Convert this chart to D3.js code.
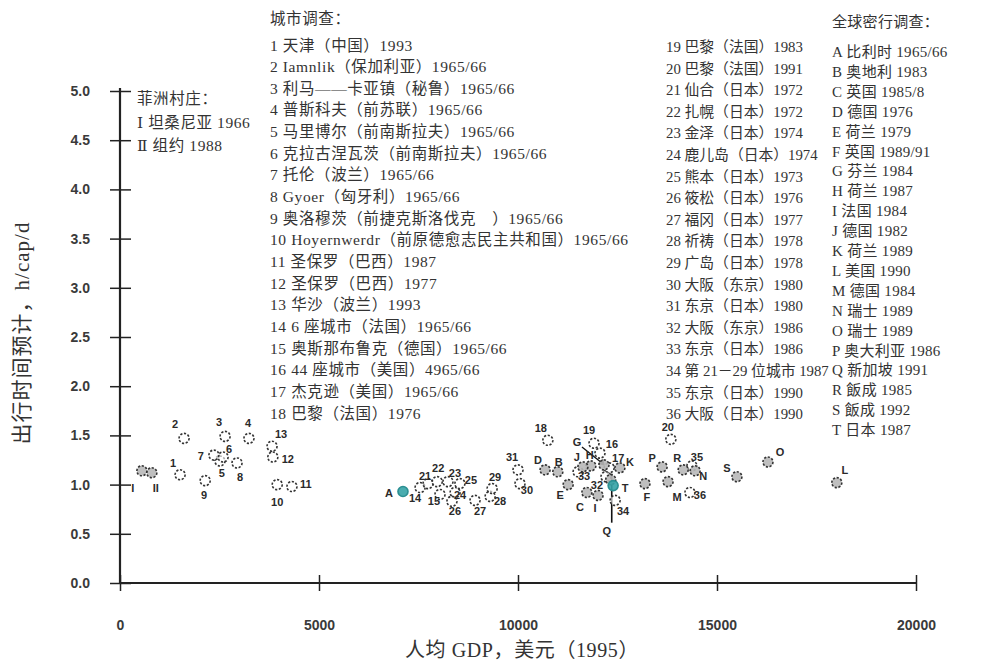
<!DOCTYPE html>
<html>
<head>
<meta charset="utf-8">
<script src="https://cdn.jsdelivr.net/npm/d3@7/dist/d3.min.js"></script>
<style>
  body { margin: 0; background: #fff; }
  svg { display: block; }
  .legend text { font-family: "Liberation Serif", "DejaVu Serif", "Noto Sans CJK SC", serif; font-size: 15.5px; fill: #333; letter-spacing: 0.6px; }
  .legend .col2 text { font-size: 14.8px; letter-spacing: 0px; }
  .legend .nation text { font-size: 15px; letter-spacing: 0.3px; }
  .tick text { font-family: "Liberation Sans Narrow", "Liberation Sans", Arial, sans-serif; font-weight: bold; font-size: 14px; fill: #3a3a3a; }
  .ptlabel { font-family: "Liberation Sans", Arial, sans-serif; font-weight: bold; font-size: 11px; fill: #2a2a2a; }
  .title { font-family: "Liberation Serif", "Noto Sans CJK SC", serif; font-size: 20px; fill: #333; letter-spacing: 0.6px; }
  .ytitle { font-size: 21px; letter-spacing: 1px; }
</style>
</head>
<body>
<svg id="chart" width="987" height="662"></svg>
<script>
// Travel time budget vs. per-capita GDP (1995 USD)

// African villages
const villageIds  = ["I", "II"];
const villageGdp  = [550, 800];
const villageTime = [1.14, 1.12];
const villageNames = ["Ⅰ 坦桑尼亚 1966", "Ⅱ 组约 1988"];

// City surveys 1–36
const cityIds  = ["1","2","3","4","5","6","7","8","9","10","11","12","13","14","15","16","17","18",
                  "19","20","21","22","23","24","25","26","27","28","29","30","31","32","33","34","35","36"];
const cityGdp  = [1510,1610,2640,3240,2510,2590,2360,2940,2140,3950,4320,3840,3820,7540,8040,12060,12290,10750,
                  11910,13840,7740,7970,8240,8420,8540,8340,8920,9300,9350,10050,10000,12210,11510,12440,14370,14320];
const cityTime = [1.10,1.47,1.49,1.47,1.24,1.28,1.30,1.22,1.04,1.00,0.98,1.28,1.39,0.97,0.90,1.32,1.17,1.45,
                  1.42,1.46,1.01,1.03,1.03,0.92,1.01,0.83,0.84,0.88,0.96,1.01,1.15,1.08,1.13,0.84,1.19,0.92];
const cityNames = [
  "1 天津（中国）1993", "2 Iamnlik（保加利亚）1965/66", "3 利马——卡亚镇（秘鲁）1965/66",
  "4 普斯科夫（前苏联）1965/66", "5 马里博尔（前南斯拉夫）1965/66", "6 克拉古涅瓦茨（前南斯拉夫）1965/66",
  "7 托伦（波兰）1965/66", "8 Gyoer（匈牙利）1965/66", "9 奥洛穆茨（前捷克斯洛伐克　）1965/66",
  "10 Hoyernwerdr（前原德愈志民主共和国）1965/66", "11 圣保罗（巴西）1987", "12 圣保罗（巴西）1977",
  "13 华沙（波兰）1993", "14 6 座城市（法国）1965/66", "15 奥斯那布鲁克（德国）1965/66",
  "16 44 座城市（美国）4965/66", "17 杰克逊（美国）1965/66", "18 巴黎（法国）1976",
  "19 巴黎（法国）1983", "20 巴黎（法国）1991", "21 仙合（日本）1972", "22 扎幌（日本）1972",
  "23 金泽（日本）1974", "24 鹿儿岛（日本）1974", "25 熊本（日本）1973", "26 筱松（日本）1976",
  "27 福冈（日本）1977", "28 祈祷（日本）1978", "29 广岛（日本）1978", "30 大阪（东京）1980",
  "31 东京（日本）1980", "32 大阪（东京）1986", "33 东京（日本）1986", "34 第 21－29 位城市 1987",
  "35 东京（日本）1990", "36 大阪（日本）1990"
];

// National travel surveys A–T
const nationIds  = ["A","B","C","D","E","F","G","H","I","J","K","L","M","N","O","P","Q","R","S","T"];
const nationGdp  = [7110,11000,11730,10680,11260,13190,12160,11830,12010,11630,12560,18010,13770,14450,16280,13620,12330,14150,15500,12390];
const nationTime = [0.93,1.13,0.92,1.15,1.00,1.01,1.20,1.19,0.89,1.18,1.17,1.02,1.03,1.14,1.23,1.18,1.05,1.15,1.08,0.99];
const nationNames = [
  "A 比利时 1965/66", "B 奥地利 1983", "C 英国 1985/8", "D 德国 1976", "E 荷兰 1979",
  "F 英国 1989/91", "G 芬兰 1984", "H 荷兰 1987", "I 法国 1984", "J 德国 1982",
  "K 荷兰 1989", "L 美国 1990", "M 德国 1984", "N 瑞士 1989", "O 瑞士 1989",
  "P 奥大利亚 1986", "Q 新加坡 1991", "R 飯成 1985", "S 飯成 1992", "T 日本 1987"
];
const highlighted = ["A", "T"];

const xTicks = [0, 5000, 10000, 15000, 20000];
const yTicks = [0, 0.5, 1, 1.5, 2, 2.5, 3, 3.5, 4, 4.5, 5];

// label placement around each marker (px)
const labelOffset = {
  "I":[-9,17], "II":[4,15],
  "1":[-7,-12], "2":[-9,-14], "3":[-6,-14], "4":[-1,-15], "5":[2,12], "6":[6,-8], "7":[-13,1],
  "8":[3,14], "9":[-1,14], "10":[0,17], "11":[14,-3], "12":[15,2], "13":[9,-12],
  "14":[-5,10], "15":[-6,7], "16":[12,-9], "17":[9,-10], "18":[-7,-12], "19":[-5,-13], "20":[-3,-12],
  "21":[-3,-8], "22":[1,-14], "23":[7,-9], "24":[5,3], "25":[11,-4], "26":[3,10], "27":[5,11],
  "28":[10,5], "29":[3,-12], "30":[7,6], "31":[-6,-13], "32":[-9,8], "33":[6,4], "34":[8,11],
  "35":[5,-9], "36":[10,3],
  "A":[-14,2], "B":[1,-10], "C":[-7,15], "D":[-7,-10], "E":[-8,10], "F":[2,13], "G":[-27,-23],
  "H":[-1,-11], "nI":[-3,13], "J":[-6,-10], "K":[10,-6], "L":[8,-13], "M":[9,15], "N":[8,5],
  "O":[12,-10], "P":[-10,-9], "Q":[-4,51], "R":[-6,-12], "S":[-10,-9], "T":[12,2]
};

const svg = d3.select("#chart");
const x = d3.scaleLinear().domain([0, 20000]).range([120, 916]);
const y = d3.scaleLinear().domain([0, 5]).range([583, 91]);

// axes
const xAxis = svg.append("g").attr("transform", "translate(0,583)")
  .call(d3.axisBottom(x).tickValues(xTicks).tickFormat(d3.format("d")).tickSize(8).tickSizeOuter(0).tickPadding(29));
xAxis.select(".domain").remove();
xAxis.selectAll(".tick line").attr("y1", -8).attr("stroke", "#222").attr("stroke-width", 1.5);

const yAxis = svg.append("g").attr("transform", "translate(120,0)")
  .call(d3.axisLeft(y).tickValues(yTicks).tickFormat(d3.format(".1f")).tickSize(10).tickSizeOuter(0).tickPadding(20));
yAxis.select(".domain").remove();
yAxis.selectAll(".tick line").attr("x1", 11).attr("stroke", "#222").attr("stroke-width", 1.5);
svg.selectAll(".tick text").attr("fill", "#3a3a3a");

svg.append("line").attr("x1", x(0)).attr("x2", x(20000) + 1).attr("y1", y(0)).attr("y2", y(0))
  .attr("stroke", "#222").attr("stroke-width", 2.2);
svg.append("line").attr("x1", x(0)).attr("x2", x(0)).attr("y1", y(0) + 1).attr("y2", y(5) - 3)
  .attr("stroke", "#222").attr("stroke-width", 2.2);

// axis titles
svg.append("text").attr("class", "title ytitle")
  .attr("transform", `translate(29,333) rotate(-90)`)
  .attr("text-anchor", "middle").text("出行时间预计，h/cap/d");
svg.append("text").attr("class", "title").attr("x", 522).attr("y", 657)
  .attr("text-anchor", "middle").text("人均 GDP，美元（1995）");

// markers
const pts = [];
villageIds.forEach((id, i) => pts.push({id, key: id, gdp: villageGdp[i], t: villageTime[i], kind: "village"}));
cityIds.forEach((id, i) => pts.push({id, key: id, gdp: cityGdp[i], t: cityTime[i], kind: "city"}));
nationIds.forEach((id, i) => pts.push({id, key: id === "I" ? "nI" : id, gdp: nationGdp[i], t: nationTime[i], kind: "nation"}));

// leader lines for crowded labels
const leaders = svg.append("g");
pts.filter(d => d.id === "G" || d.id === "Q").forEach(d => {
  const [dx, dy] = labelOffset[d.key];
  const px = x(d.gdp), py = y(d.t);
  if (d.id === "G") {
    leaders.append("line").attr("x1", px + dx + 5).attr("y1", py + dy + 5).attr("x2", px - 2).attr("y2", py - 2)
      .attr("stroke", "#111").attr("stroke-width", 1.3);
    leaders.append("path").attr("d", d3.symbol(d3.symbolTriangle, 22)())
      .attr("transform", `translate(${px - 2},${py - 2}) rotate(135)`).attr("fill", "#111");
  } else {
    leaders.append("line").attr("x1", px + 1).attr("y1", py - 6).attr("x2", px + 1).attr("y2", py + dy - 8)
      .attr("stroke", "#111").attr("stroke-width", 1.6);
  }
});

const marks = svg.append("g");
marks.selectAll("circle").data(pts).join("circle")
  .attr("cx", d => x(d.gdp)).attr("cy", d => y(d.t)).attr("r", 5)
  .attr("fill", d => highlighted.includes(d.id) && d.kind === "nation" ? "#35a3a6"
                   : d.kind === "city" ? "#fff" : "#b8b8b8")
  .attr("fill-opacity", d => d.kind === "city" ? 0.6 : 0.9)
  .attr("stroke", d => highlighted.includes(d.id) && d.kind === "nation" ? "#2b8f92" : "#333")
  .attr("stroke-width", 1.6)
  .attr("stroke-dasharray", d => highlighted.includes(d.id) && d.kind === "nation" ? null : "2.2,1.6");

svg.append("g").selectAll("text").data(pts).join("text")
  .attr("class", "ptlabel")
  .attr("x", d => x(d.gdp) + labelOffset[d.key][0])
  .attr("y", d => y(d.t) + labelOffset[d.key][1])
  .attr("text-anchor", "middle").attr("dominant-baseline", "central")
  .text(d => d.id);

// legend blocks
const legend = svg.append("g").attr("class", "legend");
const cityFirst = cityNames.slice(0, 18), citySecond = cityNames.slice(18);
const gCity = legend.append("g");
gCity.append("text").attr("x", 270).attr("y", 18).attr("dominant-baseline", "central").text("城市调查：");
gCity.selectAll("text.c1").data(cityFirst).join("text").attr("class", "c1")
  .attr("x", 270).attr("y", (d, i) => 45 + i * 21.65).attr("dominant-baseline", "central").text(d => d);
const gCity2 = legend.append("g").attr("class", "col2");
gCity2.selectAll("text.c2").data(citySecond).join("text").attr("class", "c2")
  .attr("x", 666).attr("y", (d, i) => 47 + i * 21.6).attr("dominant-baseline", "central").text(d => d);

const gNation = legend.append("g").attr("class", "nation");
gNation.append("text").attr("x", 832).attr("y", 22).attr("dominant-baseline", "central").text("全球密行调查：");
gNation.selectAll("text.n").data(nationNames).join("text").attr("class", "n")
  .attr("x", 832).attr("y", (d, i) => 52 + i * 19.9).attr("dominant-baseline", "central").text(d => d);

const gVillage = legend.append("g");
gVillage.append("text").attr("x", 137).attr("y", 98).attr("dominant-baseline", "central").text("菲洲村庄：");
gVillage.selectAll("text.v").data(villageNames).join("text").attr("class", "v")
  .attr("x", 137).attr("y", (d, i) => 122 + i * 23).attr("dominant-baseline", "central").text(d => d);
</script>
</body>
</html>
